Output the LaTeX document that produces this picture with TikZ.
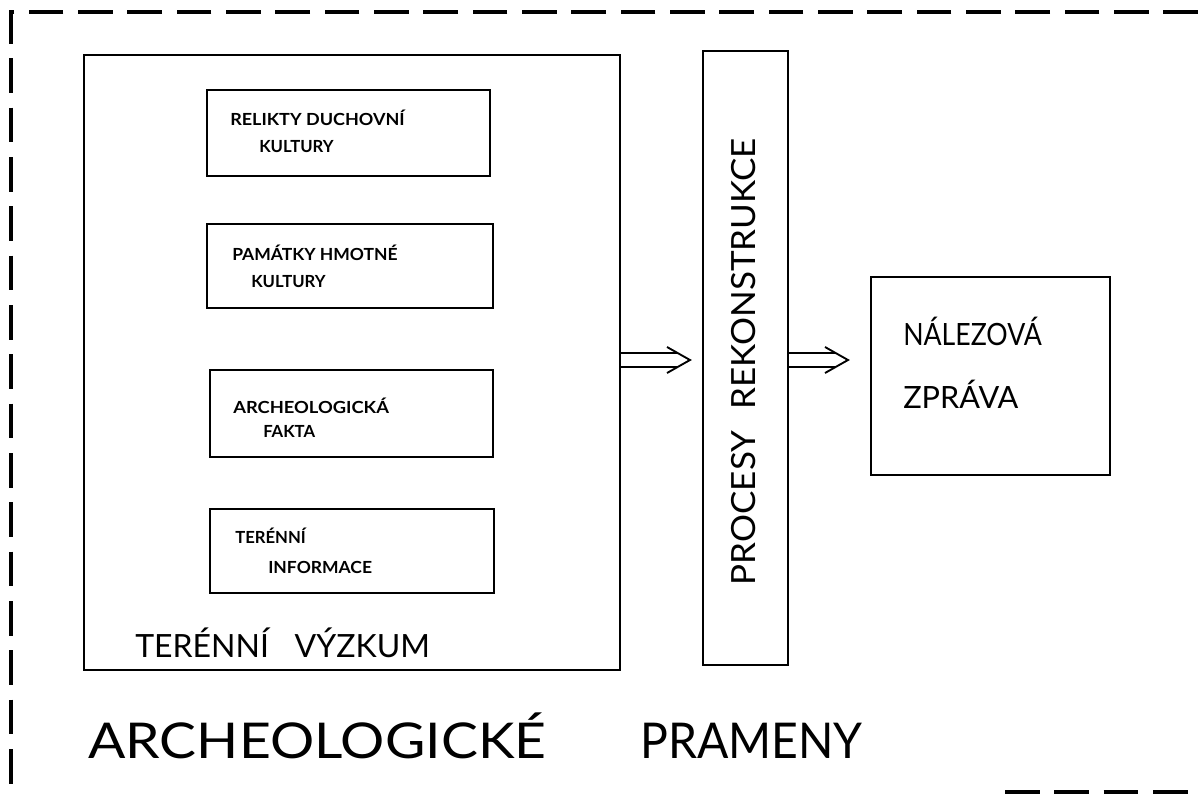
\documentclass[tikz,border=0pt]{standalone}
\usepackage{fontspec}
\setmainfont{Lato}
\usetikzlibrary{fit,calc}
\tikzset{
  frame/.style={line width=2.4pt, dash pattern=on 26pt off 11pt},
  bigbox/.style={draw, line width=1.9pt, inner sep=0pt},
  smallbox/.style={draw, line width=1.4pt, inner sep=0pt},
  conn/.style={line width=1.4pt},
  smalltxt/.style={anchor=base west, inner sep=0pt, font=\bfseries\fontsize{12.5}{15}\selectfont},
  midtxt/.style={anchor=base west, inner sep=0pt, font=\fontsize{24}{28}\selectfont},
  hugetxt/.style={anchor=base west, inner sep=0pt, font=\fontsize{37}{42}\selectfont},
}
\newcommand{\dblarrow}[2]{%
  \draw[conn] ($(#1)+(0,-7)$) -- ($(#2)+(-13,-7)$);
  \draw[conn] ($(#1)+(0,7)$) -- ($(#2)+(-13,7)$);
  \draw[conn, line join=miter] ($(#2)+(-23,-13)$) -- (#2) -- ($(#2)+(-23,13)$);
}
\begin{document}
\begin{tikzpicture}[x=0.75pt, y=-0.75pt]
\useasboundingbox (0,0) rectangle (1198,793);
% dashed frame (partly cut off)
\draw[frame] (1198,12) -- (11,12) -- (11,800);
\draw[frame] (1005,792) -- (1198,792);
% field research box
\node[bigbox, fit={(84,55) (620,670)}] (field) {};
\node[smallbox, fit={(207,90) (490,176)}] (b1) {};
\node[smallbox, fit={(207,224) (493,308)}] (b2) {};
\node[smallbox, fit={(210,370) (493,457)}] (b3) {};
\node[smallbox, fit={(210,509) (494,593)}] (b4) {};
\node[smalltxt] (t1a) at (230,125) {\scalebox{1.08}[1]{RELIKTY DUCHOVNÍ}};
\node[smalltxt] (t1b) at (259,152) {KULTURY};
\node[smalltxt] (t2a) at (232,260) {\scalebox{1.05}[1]{PAMÁTKY HMOTNÉ}};
\node[smalltxt] (t2b) at (251,287) {KULTURY};
\node[smalltxt] (t3a) at (233,413) {\scalebox{1.1}[1]{ARCHEOLOGICKÁ}};
\node[smalltxt] (t3b) at (263,437) {FAKTA};
\node[smalltxt] (t4a) at (235,543) {TERÉNNÍ};
\node[smalltxt] (t4b) at (268,573) {\scalebox{1.05}[1]{INFORMACE}};
\node[midtxt] (fieldlbl) at (135,657) {TERÉNNÍ\hspace{0.8em}VÝZKUM};
% reconstruction box
\node[bigbox, fit={(703,51) (788,665)}] (proc) {};
\node[inner sep=0pt, rotate=90, font=\fontsize{25}{28}\selectfont] (proclbl) at (744,362) {\scalebox{1.05}[1]{PROCESY\hspace{0.6em}REKONSTRUKCE}};
% report box
\node[bigbox, fit={(871,277) (1110,475)}] (rep) {};
\node[midtxt, font=\fontsize{23}{28}\selectfont] (r1) at (903,345) {\scalebox{0.87}[1]{NÁLEZOVÁ}};
\node[midtxt, font=\fontsize{23}{28}\selectfont] (r2) at (903,408) {ZPRÁVA};
% arrows
\coordinate (a1s) at (field.east |- 0,360);
\coordinate (a1e) at (690,360);
\dblarrow{a1s}{a1e}
\coordinate (a2s) at (proc.east |- 0,360);
\coordinate (a2e) at (848,360);
\dblarrow{a2s}{a2e}
% title
\node[hugetxt] (ttl1) at (88,758) {\scalebox{1.12}[1]{ARCHEOLOGICKÉ}};
\node[hugetxt] (ttl2) at (640,758) {\scalebox{0.94}[1]{PRAMENY}};
\end{tikzpicture}
\end{document}
